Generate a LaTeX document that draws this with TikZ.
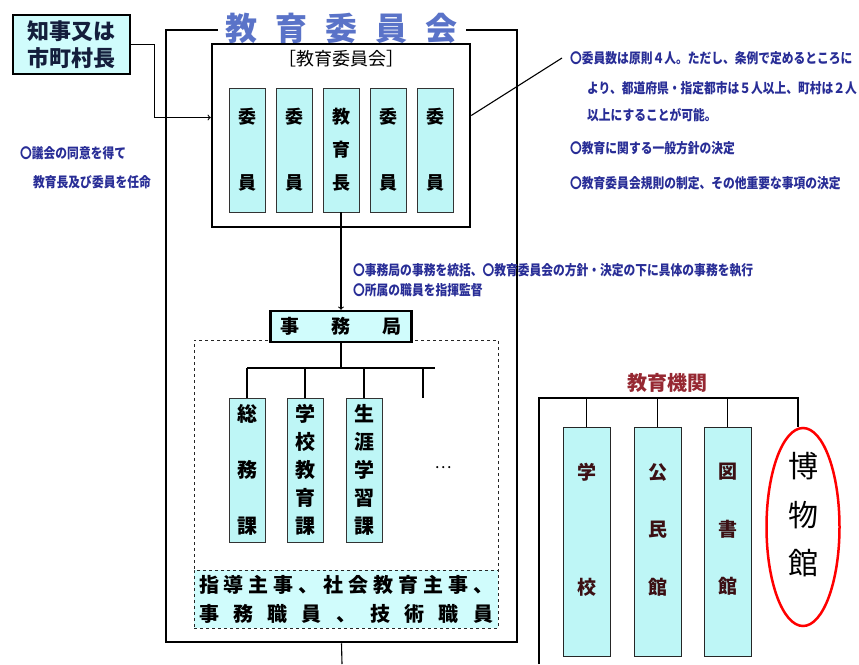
\documentclass[tikz,border=0pt]{standalone}
\usepackage{fontspec}
\setmainfont{Noto Sans CJK JP}
\newfontfamily\notefont{Noto Sans CJK JP}[FakeStretch=0.84]
\usepackage{tikz}
\usetikzlibrary{shapes.geometric, arrows}
\definecolor{boxcyan}{RGB}{208,252,252}
\definecolor{memcyan}{RGB}{190,246,246}
\definecolor{noteblue}{RGB}{40,45,150}
\definecolor{titleblue}{RGB}{90,115,200}
\definecolor{govtext}{RGB}{20,30,60}
\definecolor{orgred}{RGB}{150,40,50}
\tikzstyle{heavybox} = [rectangle, draw=black, line width=2.5pt]
\tikzstyle{boardtitle} = [fill=white, inner xsep=8pt, inner ysep=0pt, text=titleblue, font=\bfseries\fontsize{32}{36}\selectfont]
\tikzstyle{govbox} = [heavybox, fill=boxcyan, minimum width=117pt, minimum height=59pt, inner sep=0pt, align=center, text=govtext, font=\bfseries\fontsize{22}{27}\selectfont]
\tikzstyle{member} = [rectangle, draw=black!80, fill=memcyan, minimum width=36pt, minimum height=124pt, inner sep=0pt, align=center, font=\bfseries\fontsize{18}{33}\selectfont]
\tikzstyle{section} = [rectangle, draw=black!80, fill=memcyan, minimum width=36pt, minimum height=144pt, inner sep=0pt, align=center, font=\bfseries\fontsize{20}{28}\selectfont]
\tikzstyle{jimbox} = [heavybox, fill=boxcyan, minimum width=141pt, minimum height=31pt, inner sep=0pt, font=\bfseries\fontsize{19}{22}\selectfont]
\tikzstyle{officebox} = [rectangle, draw=black!85, dashed, line width=1pt, minimum width=304pt, minimum height=288pt]
\tikzstyle{staffbox} = [rectangle, draw=black!85, dashed, line width=1pt, fill=boxcyan, minimum width=304pt, minimum height=58pt, inner sep=0pt, align=center, font=\bfseries\fontsize{20}{29}\selectfont]
\tikzstyle{note} = [anchor=west, inner sep=0pt, text=noteblue, font=\notefont\bfseries\fontsize{14}{16}\selectfont]
\tikzstyle{orgtitle} = [inner sep=0pt, text=orgred, font=\bfseries\fontsize{20}{24}\selectfont]
\tikzstyle{orgbox} = [rectangle, draw=black!85, fill=memcyan, minimum width=47pt, minimum height=229pt]
\tikzstyle{orgtext} = [inner sep=0pt, align=center, text=black!60!orgred, font=\bfseries\fontsize{19}{57.5}\selectfont]
\tikzstyle{museum} = [ellipse, draw=red, line width=2.5pt, minimum width=73pt, minimum height=198pt]
\tikzstyle{museumtext} = [inner sep=0pt, align=center, font=\fontsize{30}{48.5}\selectfont]
\tikzstyle{link} = [line width=1.1pt]
\tikzstyle{arrow} = [link,->,>=to]

\begin{document}
\begin{tikzpicture}[x=1pt, y=-1pt, node distance=47pt]
        \useasboundingbox (0,0) rectangle (859,664);

        % Nodes
        \node (board) [heavybox, minimum width=351pt, minimum height=612pt] at (341.5,336) {};
        \node (boardtitle) [boardtitle] at (board.north) {教\hspace{18pt}育\hspace{18pt}委\hspace{18pt}員\hspace{18pt}会};
        \node (gov) [govbox] at (71.5,44.5) {知事又は\\市町村長};
        \node (boe) [heavybox, minimum width=258pt, minimum height=183pt] at (341,135.5) {};
        \node (boelabel) [font=\fontsize{18}{20}\selectfont] at ([yshift=-16pt]boe.north) {［教育委員会］};
        \node (mem1) [member] at (247,150) {委\\[33pt]員};
        \node (mem2) [member, right of=mem1] {委\\[33pt]員};
        \node (mem3) [member, right of=mem2] {教\\育\\長};
        \node (mem4) [member, right of=mem3] {委\\[33pt]員};
        \node (mem5) [member, right of=mem4] {委\\[33pt]員};

        \node (leftnote1) [note] at (20,153) {〇議会の同意を得て};
        \node (leftnote2) [note] at (33,182) {教育長及び委員を任命};
        \node (rightnote1) [note] at (570,58) {〇委員数は原則４人。ただし、条例で定めるところに};
        \node (rightnote2) [note] at (587,88) {より、都道府県・指定都市は５人以上、町村は２人};
        \node (rightnote3) [note] at (587,115) {以上にすることが可能。};
        \node (rightnote4) [note] at (570,148) {〇教育に関する一般方針の決定};
        \node (rightnote5) [note] at (570,183) {〇教育委員会規則の制定、その他重要な事項の決定};
        \node (midnote1) [note] at (353,270) {〇事務局の事務を統括、〇教育委員会の方針・決定の下に具体の事務を執行};
        \node (midnote2) [note] at (353,290) {〇所属の職員を指揮監督};

        \node (office) [officebox] at (346,484) {};
        \node (jim) [jimbox] at (341,326.5) {事\hspace{32pt}務\hspace{32pt}局};
        \node (sec1) [section] at (247,470) {総\\[28pt]務\\[28pt]課};
        \node (sec2) [section, right of=sec1, xshift=11pt] {学\\校\\教\\育\\課};
        \node (sec3) [section, right of=sec2, xshift=12pt] {生\\涯\\学\\習\\課};
        \node (dots) [font=\fontsize{16}{18}\selectfont] at (443,468) {…};
        \node (staff) [staffbox] at (346,599) {\makebox[294pt][s]{指\hfill 導\hfill 主\hfill 事\hfill 、\hfill 社\hfill 会\hfill 教\hfill 育\hfill 主\hfill 事\hfill 、}\\
            \makebox[294pt][s]{事\hfill 務\hfill 職\hfill 員\hfill 、\hfill 技\hfill 術\hfill 職\hfill 員}};

        \node (orgtitle) [orgtitle] at (667,383) {教育機関};
        \node (school) [orgbox] at (586.5,541.5) {};
        \node (hall) [orgbox, right of=school, xshift=24pt] {};
        \node (library) [orgbox, right of=hall, xshift=23pt] {};
        \node (schooltext) [orgtext] at ([yshift=12pt]school.center) {学\\[57.5pt]校};
        \node (halltext) [orgtext] at ([yshift=12pt]hall.center) {公\\民\\館};
        \node (librarytext) [orgtext] at ([yshift=12pt]library.center) {図\\書\\館};
        \node (museum) [museum] at (803,527) {};
        \node (museumtext) [museumtext] at ([yshift=12pt]museum.center) {博\\物\\館};

        \coordinate (callout) at (562,58);
        \coordinate (secleft) at (247,368);
        \coordinate (secright) at (435,368);
        \coordinate (secmore) at (423,398);
        \coordinate (boarddown) at (342,664);
        \coordinate (orgleft) at (539,398);
        \coordinate (orgright) at (798,398);
        \coordinate (orgdown) at (539,664);

        % Arrows
        \draw [arrow] (gov.east) -- ++(23,0) |- ([yshift=18pt]boe.west);
        \draw [link] ([yshift=20pt]boe.east) -- (callout);
        \draw [arrow] (mem3.south) -- (jim.north);
        \draw [link] (jim.south) -- (jim.south |- secleft);
        \draw [link] (secleft) -- (secright);
        \draw [link] (sec1.north) -- (sec1.north |- secleft);
        \draw [link] (sec2.north) -- (sec2.north |- secleft);
        \draw [link] (sec3.north) -- (sec3.north |- secleft);
        \draw [link] (secmore) -- (secmore |- secleft);
        \draw [link] (board.south) -- (boarddown);
        \draw [link] (orgdown) -- (orgleft) -- (orgright) -- (orgright |- museum.north);
        \draw [link] (school.north) -- (school.north |- orgleft);
        \draw [link] (hall.north) -- (hall.north |- orgleft);
        \draw [link] (library.north) -- (library.north |- orgleft);
    \end{tikzpicture}
\end{document}
